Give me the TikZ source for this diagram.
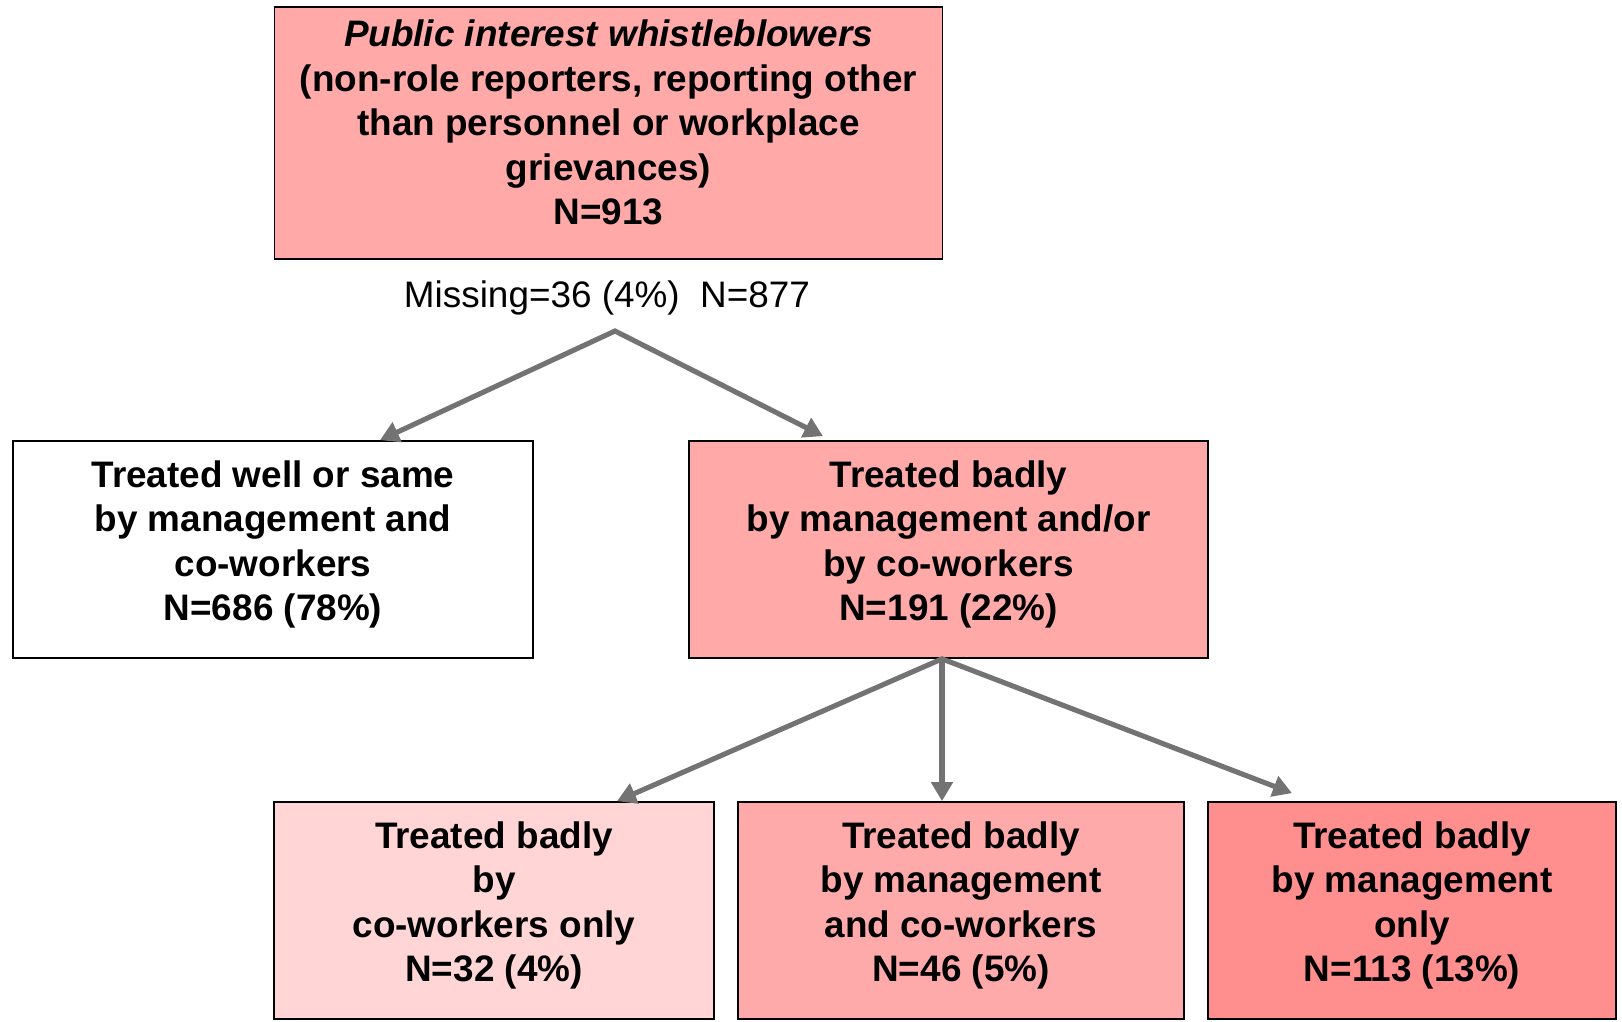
\documentclass[tikz,border=0pt]{standalone}
\usepackage{fontspec}
\setmainfont{Liberation Sans}
\usetikzlibrary{arrows.meta,calc}
\definecolor{salmon}{RGB}{255,170,168}
\definecolor{palepink}{RGB}{255,213,213}
\definecolor{midpink}{RGB}{255,170,170}
\definecolor{deeppink}{RGB}{255,142,142}
\definecolor{linkgray}{RGB}{115,115,115}

\begin{document}
\begin{tikzpicture}[x=0.02cm,y=-0.02cm,>={Triangle[length=0.38cm,width=0.42cm]},
    every node/.style={font=\fontsize{21}{25.3}\selectfont},
    box/.style={draw=black,line width=1pt,align=center,inner sep=0pt,text depth=0.36cm,
        font=\fontsize{21}{25.3}\selectfont\bfseries},
    link/.style={->,draw=linkgray,line width=2.9pt}]
    \useasboundingbox (0,0) rectangle (1622,1021);

    \node[box,fill=salmon,minimum width=13.36cm,minimum height=5.04cm,text depth=0.42cm] (pi) at (608.5,133)
        {\textit{Public interest whistleblowers}\\(non-role reporters, reporting other\\than personnel or workplace\\grievances)\\N=913};
    \node (miss) at (607,298) {Missing=36 (4\%)~ N=877};

    \node[box,fill=white,minimum width=10.4cm,minimum height=4.34cm] (well) at (273,549.5)
        {Treated well or same\\by management and\\co-workers\\N=686 (78\%)};
    \node[box,fill=salmon,minimum width=10.38cm,minimum height=4.34cm] (bad) at (948.5,549.5)
        {Treated badly\\by management and/or\\by co-workers\\N=191 (22\%)};

    \node[box,fill=palepink,minimum width=8.8cm,minimum height=4.34cm] (cw) at (494,910.5)
        {Treated badly\\by\\co-workers only\\N=32 (4\%)};
    \node[box,fill=midpink,minimum width=8.92cm,minimum height=4.34cm] (mc) at (961,910.5)
        {Treated badly\\by management\\and co-workers\\N=46 (5\%)};
    \node[box,fill=deeppink,minimum width=8.16cm,minimum height=4.34cm] (mg) at (1412,910.5)
        {Treated badly\\by management\\only\\N=113 (13\%)};

    % split points
    \coordinate (s1) at (615,331);
    \coordinate (s2) at ($(bad.south)+(-6.5,0)$);

    \draw[link,<->] ($(well.north)+(107,0)$) -- (s1) -- ($(bad.north)+(-125.5,-4)$);
    \draw[link,<->] ($(cw.north)+(123,0)$) -- (s2) -- ($(mg.north)+(-120,-8)$);
    \draw[link] (s2) -- (s2 |- mc.north);
\end{tikzpicture}
\end{document}
